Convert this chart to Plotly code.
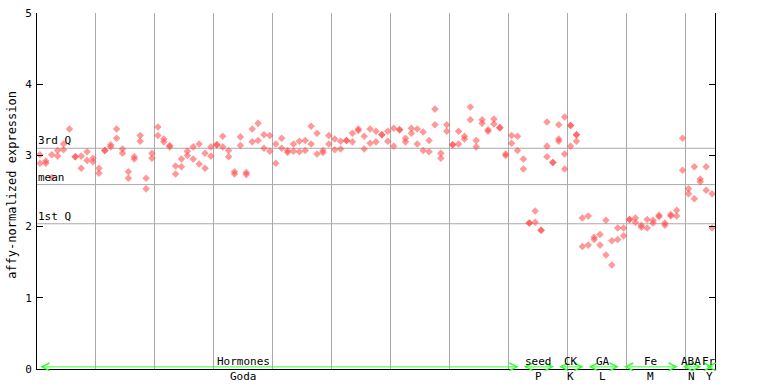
import plotly.graph_objects as go

# ---------------- data ----------------
# replicate values per sample (115 samples, left to right)
rep1 = [3.01, 2.92, 3.01, 3.07, 3.16, 3.37, 2.98, 2.99, 3.05, 2.96,
        2.82, 3.07, 3.15, 3.37, 3.09, 2.77, 2.98, 3.28, 2.68, 3.03,
        3.40, 3.23, 3.14, 2.85, 2.95, 3.06, 3.12, 3.16, 3.03, 3.12,
        3.15, 3.27, 3.07, 2.77, 3.26, 2.76, 3.37, 3.45, 3.29, 3.28,
        3.16, 3.24, 3.07, 3.16, 3.20, 3.21, 3.41, 3.31, 3.07, 3.28,
        3.23, 3.20, 3.21, 3.31, 3.37, 3.27, 3.37, 3.34, 3.29, 3.34,
        3.38, 3.36, 3.24, 3.38, 3.37, 3.33, 3.21, 3.65, 3.03, 3.43,
        3.15, 3.34, 3.27, 3.68, 3.21, 3.50, 3.36, 3.51, 3.39, 3.02,
        3.28, 3.27, 2.95, 2.05, 2.22, 1.95, 3.47, 2.90, 3.43, 3.54,
        3.42, 3.29, 2.12, 2.15, 1.85, 1.89, 2.09, 1.80, 1.98, 1.98,
        2.10, 2.12, 2.02, 2.10, 2.09, 2.16, 2.05, 2.17, 2.23, 3.24,
        2.53, 2.84, 2.67, 2.84, 2.46]
rep2 = [2.89, 2.89, 2.69, 2.99, 3.08, None, 2.98, 2.82, 2.93, 2.91,
        2.75, 3.07, 3.12, 3.24, 3.03, 2.68, 2.95, 3.20, 2.53, 2.96,
        3.28, 3.19, 3.12, 2.74, 2.84, 3.00, 2.95, 2.88, 2.82, 2.99,
        3.15, 3.12, 2.98, 2.74, 3.14, 2.73, 3.19, 3.21, 3.10, 3.06,
        2.89, 3.10, 3.04, 3.06, 3.05, 3.07, 3.16, 3.02, 3.04, 3.16,
        3.08, 3.09, 3.21, 3.19, 3.35, 3.09, 3.17, 3.19, 3.29, 3.20,
        3.13, 3.36, 3.19, 3.31, 3.16, 3.07, 3.05, 3.43, 2.96, 3.34,
        3.15, 3.16, 3.23, 3.50, 3.12, 3.45, 3.34, 3.44, 3.39, 3.00,
        3.17, 3.07, 2.81, 2.05, 2.06, 1.95, 3.13, 2.90, 3.23, 3.02,
        3.42, 3.29, 1.72, 1.74, 1.82, 1.74, 1.60, 1.46, 1.82, 1.87,
        2.10, 2.06, 1.99, 1.98, 2.05, 2.14, 2.02, 2.15, 2.15, 2.79,
        2.46, 2.39, 2.63, 2.51, 1.98]
rep3 = [None] * 86 + [2.98, None, 3.20, 2.81, 3.13, 3.20] + [None] * 23

q3_value = 3.10
mean_value = 2.59
q1_value = 2.04
stat_values = [q3_value, mean_value, q1_value]
stat_labels = ["3rd Q", "mean", "1st Q"]

tissue_groups = ["Hormones", "seed", "CK", "GA", "Fe", "ABA", "Fr"]
series_codes = ["Goda", "P", "K", "L", "M", "N", "Y"]
group_bounds = [0, 82, 88, 93, 99, 109, 113, 115]
y_ticks = [0, 1, 2, 3, 4, 5]
y_title = "affy-normalized expression"

# ---------------- figure ----------------
FONT = "DejaVu Sans Mono"
RED = "rgba(255,70,70,0.55)"
GRID = "#aaaaaa"
GREEN = "#33ff33"

n = len(rep1)
xs, ys = [], []
for rep in (rep1, rep2, rep3):
    for i, v in enumerate(rep):
        if v is not None:
            xs.append(i + 0.5)
            ys.append(v)

fig = go.Figure()
fig.add_trace(go.Scatter(
    x=xs, y=ys, mode="markers",
    marker=dict(symbol="diamond", size=5.8, color=RED, line=dict(width=0)),
    hoverinfo="y", showlegend=False,
))

shapes = []
for v in stat_values:
    shapes.append(dict(type="line", xref="x", yref="y", x0=0, x1=n, y0=v, y1=v,
                       line=dict(color=GRID, width=1), layer="below"))

annotations = []
for v, lab in zip(stat_values, stat_labels):
    annotations.append(dict(x=0, y=v, xref="x", yref="y", text=lab,
                            showarrow=False, xanchor="left", yanchor="bottom",
                            xshift=-1, yshift=-1,
                            font=dict(family=FONT, size=11, color="black")))

label_centers = [(group_bounds[k] + group_bounds[k + 1]) / 2 for k in range(len(tissue_groups))]
label_centers[0] = 35.0
for k, (top, bot) in enumerate(zip(tissue_groups, series_codes)):
    lo, hi = group_bounds[k], group_bounds[k + 1]
    annotations.append(dict(x=hi - 0.3, y=0.03, ax=lo + 0.3, ay=0.03,
                            xref="x", yref="y", axref="x", ayref="y",
                            text="", showarrow=True, arrowside="end+start",
                            arrowhead=5, startarrowhead=5, arrowsize=1.5,
                            startarrowsize=1.5, arrowwidth=1, arrowcolor=GREEN))
    annotations.append(dict(x=label_centers[k], y=0.1, xref="x", yref="y",
                            text=top, showarrow=False, yanchor="middle",
                            font=dict(family=FONT, size=11, color="black")))
    annotations.append(dict(x=label_centers[k], y=-0.02, xref="x", yref="paper",
                            text=bot, showarrow=False, yanchor="middle",
                            font=dict(family=FONT, size=11, color="black")))

annotations.append(dict(x=-0.037, y=0.517, xref="paper", yref="paper",
                        text=y_title, textangle=-90, showarrow=False,
                        xanchor="center", yanchor="middle",
                        font=dict(family=FONT, size=12, color="black")))

fig.update_layout(
    width=768, height=384,
    margin=dict(l=37, r=53, t=13, b=15, autoexpand=False),
    paper_bgcolor="white", plot_bgcolor="white",
    shapes=shapes, annotations=annotations,
    font=dict(family=FONT, size=11, color="black"),
    xaxis=dict(range=[0, n], tick0=0, dtick=10, showgrid=True, gridcolor=GRID,
               gridwidth=1, showticklabels=False, ticks="", zeroline=False,
               showline=True, linecolor="black", linewidth=1, mirror=False,
               fixedrange=True),
    yaxis=dict(range=[0, 5], tickvals=y_ticks, ticktext=[str(t) for t in y_ticks],
               showgrid=False, zeroline=False, ticks="inside", ticklen=6,
               tickcolor="black", showline=True, linecolor="black", linewidth=1,
               mirror="ticks", ticklabelstandoff=2,
               tickfont=dict(family=FONT, size=11, color="black"),
               fixedrange=True),
)

fig.write_html(
    "out.html",
    config={"displayModeBar": False},
    post_script="document.body.style.margin='0';document.body.style.padding='0';"
                "document.body.style.overflow='hidden';",
)
